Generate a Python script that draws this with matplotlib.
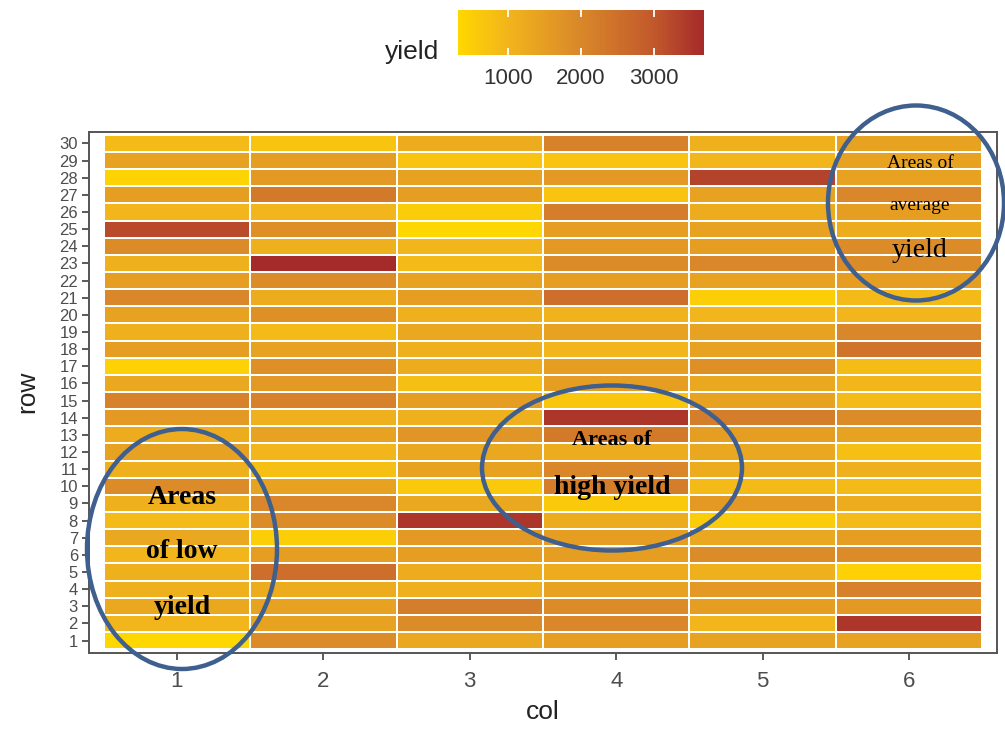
import numpy as np
import matplotlib
matplotlib.use("Agg")
import matplotlib.pyplot as plt
from matplotlib.colors import LinearSegmentedColormap, Normalize
from matplotlib.patches import Ellipse

plt.rcParams["font.family"] = ["Liberation Sans", "DejaVu Sans"]

# Field trial yield by plot position (rows listed from row 30 down to row 1)
cols = [1, 2, 3, 4, 5, 6]
rows = list(range(1, 31))

col1 = [900, 1400, 400, 1500, 1000, 3200, 1900, 1100, 1500, 2000, 1400, 1100, 1500, 450, 1300,
        2100, 1600, 1200, 1400, 1100, 1900, 1100, 900, 1300, 1000, 1100, 1100, 1300, 1000, 330]
col2 = [700, 1500, 1600, 2300, 1000, 1800, 1100, 3680, 1900, 1200, 1800, 900, 1400, 1800, 1600,
        2100, 1100, 1400, 1000, 800, 1400, 2000, 1900, 500, 1500, 2500, 1200, 1400, 1400, 1900]
col3 = [1200, 700, 1400, 1500, 550, 320, 1000, 900, 1400, 1500, 1100, 1300, 1100, 1200, 800,
        1500, 1100, 1700, 1300, 1400, 600, 1300, 3500, 1600, 1500, 1200, 1100, 2200, 1900, 1300]
col4 = [2100, 700, 1600, 700, 2200, 1500, 1600, 1900, 1500, 2500, 1050, 1400, 1000, 1500, 1500,
        650, 3500, 2300, 1200, 2000, 2200, 600, 1200, 1500, 1500, 1200, 1400, 1900, 2000, 1500]
col5 = [1100, 1000, 3300, 1400, 1200, 1400, 1500, 2000, 1400, 500, 1000, 1400, 1400, 1800, 1300,
        1400, 2200, 1500, 1300, 1200, 900, 1600, 550, 1300, 1900, 1100, 1600, 1500, 1000, 1400]
col6 = [1400, 1400, 1400, 2000, 1500, 1200, 1900, 1900, 1500, 900, 1000, 2000, 2400, 850, 1000,
        900, 1900, 1400, 800, 1100, 900, 1200, 900, 1500, 1900, 450, 2100, 1600, 3500, 1400]

legend_ticks = [1000, 2000, 3000]

# grid[row-1, col-1]
grid = np.array([col1, col2, col3, col4, col5, col6], dtype=float).T[::-1]

cmap = LinearSegmentedColormap.from_list(
    "gold_brown",
    [(0.0, "#FFD700"), (0.2, "#F2B51B"), (0.5, "#D9872A"), (0.8, "#C1582B"), (1.0, "#A52A2A")])
norm = Normalize(vmin=grid.min(), vmax=grid.max())

W, H = 1005, 729
fig = plt.figure(figsize=(W / 100, H / 100), dpi=100)
fig.patch.set_facecolor("white")

ax = fig.add_axes([89 / W, 1 - 652.5 / H, (997 - 89) / W, (652.5 - 131.5) / H])
xe = np.arange(len(cols) + 1) + 0.5
ye = np.arange(len(rows) + 1) + 0.5
ax.pcolormesh(xe, ye, grid, cmap=cmap, norm=norm, edgecolors="white", linewidth=1.3)
ax.set_xlim(0.4, 6.6)
ax.set_ylim(0.3, 30.7)

ax.set_xticks(cols)
ax.set_xticklabels([str(c) for c in cols])
ax.set_yticks(rows)
ax.set_yticklabels([str(r) for r in rows])
ax.tick_params(axis="both", colors="#4D4D4D", labelcolor="#4D4D4D", length=5, width=1.3,
               direction="out")
ax.tick_params(axis="x", labelsize=16, pad=8)
ax.tick_params(axis="y", labelsize=12, pad=3)
for s in ax.spines.values():
    s.set_color("#555555")
    s.set_linewidth(1.4)

ax.set_xlabel("col", fontsize=19, color="#222222", labelpad=6)
ax.set_ylabel("row", fontsize=19, color="#222222", labelpad=14)

# Colour bar legend on top
cax = fig.add_axes([458 / W, 1 - 55 / H, 246 / W, 45 / H])
sm = matplotlib.cm.ScalarMappable(norm=norm, cmap=cmap)
cb = fig.colorbar(sm, cax=cax, orientation="horizontal")
cb.outline.set_visible(False)
cb.set_ticks(legend_ticks)
cb.set_ticklabels([str(t) for t in legend_ticks])
cax.tick_params(axis="x", direction="in", color="white", length=5, width=1.3,
                labelsize=16, labelcolor="#333333", top=True, pad=9)
fig.text(412 / W, 1 - 52 / H, "yield", fontsize=19, color="#222222", ha="center", va="center")

# Highlighted regions
ring = "#3F5F8F"
for cx, cy, ew, eh in [(182, 549, 190, 240), (612, 468, 260, 165), (916, 203, 176, 195)]:
    fig.add_artist(Ellipse((cx / W, 1 - cy / H), ew / W, eh / H, transform=fig.transFigure,
                           fill=False, edgecolor=ring, linewidth=3.2, zorder=10))

serif = "Liberation Serif"
def note(x, y, s, size, weight):
    fig.text(x / W, 1 - y / H, s, fontsize=size, fontweight=weight, family=serif,
             color="black", ha="center", va="center", zorder=11)

note(182, 497, "Areas", 20, "bold")
note(182, 552, "of low", 20, "bold")
note(182, 607, "yield", 20, "bold")
note(612, 440, "Areas of", 16, "bold")
note(612, 487, "high yield", 20, "bold")
note(920, 163, "Areas of", 14, "normal")
note(920, 206, "average", 14, "normal")
note(920, 250, "yield", 20, "normal")

fig.savefig("out.png", dpi=100)
